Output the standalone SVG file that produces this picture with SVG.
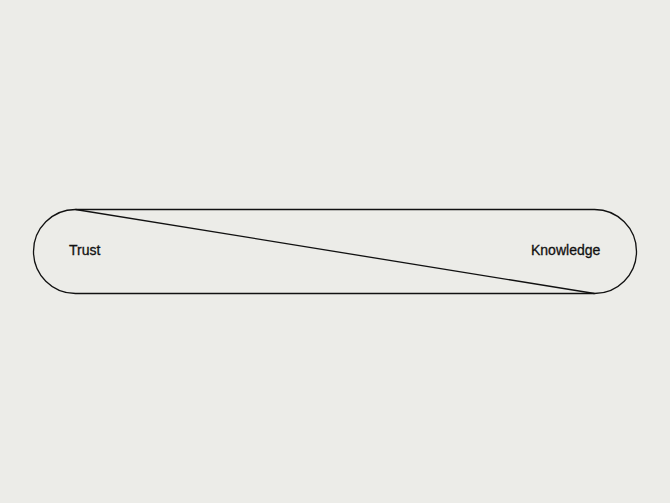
<svg xmlns="http://www.w3.org/2000/svg" width="670" height="503" viewBox="0 0 670 503">
<style>
.outline{fill:none;stroke:#111;stroke-width:1.3}
.lbl{font-family:"Liberation Sans",Arial,sans-serif;font-size:14px;fill:#111;stroke:#111;stroke-width:0.3}
</style>
<rect width="670" height="503" fill="#ececE8"/>
<g id="pill">
<rect class="outline" x="33.5" y="209.5" width="603" height="84" rx="42" ry="42"/>
</g>
<g id="connectors">
<line class="outline" x1="75.5" y1="209.5" x2="594.5" y2="293.5"/>
</g>
<g id="trust"><text class="lbl" x="69" y="254.5">Trust</text></g>
<g id="knowledge"><text class="lbl" x="531" y="254.5">Knowledge</text></g>
</svg>
